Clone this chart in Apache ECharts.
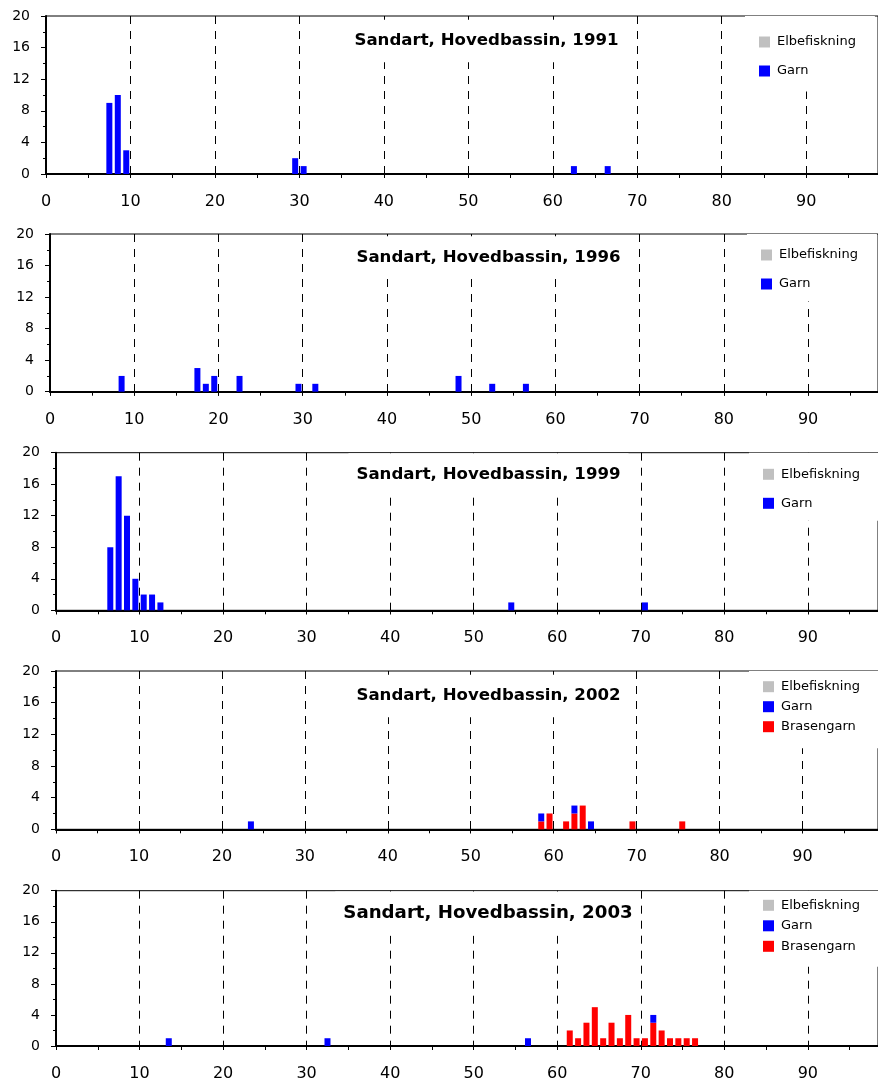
<!DOCTYPE html>
<html>
<head>
<meta charset="utf-8">
<script src="https://cdn.jsdelivr.net/npm/echarts@6/dist/echarts.min.js"></script>
<style>
html,body{margin:0;padding:0;background:#fff;}
#chart{width:878px;height:1082px;}
</style>
</head>
<body>
<div id="chart"></div>
<script>
// ---------- DATA ----------
const seriesNames = ['Elbefiskning', 'Garn', 'Brasengarn'];
const titles = [
  'Sandart, Hovedbassin, 1991',
  'Sandart, Hovedbassin, 1996',
  'Sandart, Hovedbassin, 1999',
  'Sandart, Hovedbassin, 2002',
  'Sandart, Hovedbassin, 2003'
];
const yTickValues = [0, 4, 8, 12, 16, 20];
const xTickValues = [0, 10, 20, 30, 40, 50, 60, 70, 80, 90];

const len1991  = [7.5, 8.5, 9.5, 29.5, 30.5, 62.5, 66.5];
const garn1991 = [9, 10, 3, 2, 1, 1, 1];

const len1996  = [8.5, 17.5, 18.5, 19.5, 22.5, 29.5, 31.5, 48.5, 52.5, 56.5];
const garn1996 = [2, 3, 1, 2, 2, 1, 1, 2, 1, 1];

const len1999  = [6.5, 7.5, 8.5, 9.5, 10.5, 11.5, 12.5, 54.5, 70.5];
const garn1999 = [8, 17, 12, 4, 2, 2, 1, 1, 1];

const len2002    = [23.5, 58.5, 59.5, 61.5, 62.5, 63.5, 64.5, 69.5, 75.5];
const brasen2002 = [0, 1, 2, 1, 2, 3, 0, 1, 1];
const garn2002   = [1, 1, 0, 0, 1, 0, 1, 0, 0];

const len2003    = [13.5, 32.5, 56.5, 61.5, 62.5, 63.5, 64.5, 65.5, 66.5, 67.5, 68.5, 69.5, 70.5, 71.5, 72.5, 73.5, 74.5, 75.5, 76.5];
const brasen2003 = [0, 0, 0, 2, 1, 3, 5, 1, 3, 1, 4, 1, 1, 3, 2, 1, 1, 1, 1];
const garn2003   = [1, 1, 1, 0, 0, 0, 0, 0, 0, 0, 0, 0, 0, 1, 0, 0, 0, 0, 0];

// ---------- LAYOUT ----------
const layouts = [
  {left: 46, top: 16,    height: 158,   xMax: 98.5, tx: 478.5, ty: 41,    ts: 16.6, lx: 759, lpad: [19.5, 19, 14, 14], lgap: 16},
  {left: 50, top: 234,   height: 157.7, xMax: 98.3, tx: 480.5, ty: 257.5, ts: 16.6, lx: 761, lpad: [14.5, 19, 11, 14], lgap: 16},
  {left: 56, top: 452.7, height: 157.6, xMax: 98.4, tx: 480.5, ty: 474.5, ts: 16.6, lx: 763, lpad: [15.1, 19, 11, 14], lgap: 16},
  {left: 56, top: 671,   height: 158.3, xMax: 99.1, tx: 480.5, ty: 696,   ts: 16.6, lx: 763, lpad: [9.2, 19, 15, 14],  lgap: 7},
  {left: 56, top: 890.7, height: 157.6, xMax: 98.4, tx: 480,   ty: 913.5, ts: 18.2, lx: 763, lpad: [8.1, 19, 14, 14],  lgap: 7.5}
];

const panelData = [
  {len: len1991, garn: garn1991, brasen: null},
  {len: len1996, garn: garn1996, brasen: null},
  {len: len1999, garn: garn1999, brasen: null},
  {len: len2002, garn: garn2002, brasen: brasen2002},
  {len: len2003, garn: garn2003, brasen: brasen2003}
];

const colors = {'Elbefiskning': '#C0C0C0', 'Garn': '#0000FF', 'Brasengarn': '#FF0000'};
const FONT = 'DejaVu Sans';

const grid = [], xAxis = [], yAxis = [], series = [], title = [], legend = [];

panelData.forEach((p, k) => {
  const L = layouts[k];
  grid.push({left: L.left, top: L.top, height: L.height, right: 0, show: true,
             borderColor: '#000', borderWidth: 1, backgroundColor: 'transparent'});
  // main x axis
  xAxis.push({
    gridIndex: k, type: 'value', min: 0, max: L.xMax, interval: 10, position: 'bottom',
    axisLine: {show: true, onZero: false, lineStyle: {color: '#000', width: 2}},
    axisTick: {show: true, length: 4, lineStyle: {color: '#000', width: 1}},
    axisLabel: {show: true, showMaxLabel: false, margin: 20, color: '#000', fontFamily: FONT, fontSize: 16,
                formatter: v => xTickValues.indexOf(v) >= 0 ? String(v) : ''},
    splitLine: {show: true, lineStyle: {color: '#000', width: 1, type: [8, 7]}}
  });
  // minor x ticks (every 5)
  xAxis.push({
    gridIndex: k, type: 'value', min: 0, max: L.xMax, interval: 5, position: 'bottom',
    axisLine: {show: false}, axisLabel: {show: false}, splitLine: {show: false},
    axisTick: {show: true, length: 4, lineStyle: {color: '#000', width: 1}}
  });
  yAxis.push({
    gridIndex: k, type: 'value', min: 0, max: 20, interval: 4,
    axisLine: {show: true, lineStyle: {color: '#000', width: 2}},
    axisTick: {show: true, length: 5, lineStyle: {color: '#000', width: 1}},
    minorTick: {show: true, splitNumber: 2, length: 3, lineStyle: {color: '#000', width: 1}},
    axisLabel: {margin: 16, color: '#000', fontFamily: FONT, fontSize: 14,
                formatter: v => yTickValues.indexOf(v) >= 0 ? String(v) : ''},
    splitLine: {show: false}
  });

  const stack = 'p' + k;
  // data stored as [count, length] so the count dimension is the stacked one
  const mk = (name, vals) => ({
    name: name, type: 'bar', xAxisIndex: 2 * k, yAxisIndex: k, stack: stack,
    encode: {x: 1, y: 0},
    barWidth: 6, itemStyle: {color: colors[name]}, silent: true,
    data: vals ? p.len.map((x, i) => [vals[i], x]) : []
  });
  if (p.brasen) series.push(mk('Brasengarn', p.brasen));
  series.push(mk('Garn', p.garn));
  series.push(mk('Elbefiskning', null));

  const lh = L.ts + 2, padV = 12;
  title.push({
    text: titles[k], left: L.tx, top: L.ty - lh / 2 - padV, textAlign: 'center',
    padding: [padV, 8], backgroundColor: '#fff',
    textStyle: {fontFamily: FONT, fontWeight: 'bold', fontSize: L.ts, lineHeight: lh, color: '#000'}
  });

  legend.push({
    data: p.brasen ? seriesNames : seriesNames.slice(0, 2),
    orient: 'vertical', left: L.lx - L.lpad[3], top: L.top,
    padding: L.lpad, itemGap: L.lgap, itemWidth: 11, itemHeight: 11,
    icon: 'rect', backgroundColor: '#fff', selectedMode: false,
    textStyle: {fontFamily: FONT, fontSize: 13, lineHeight: 13, color: '#000', padding: [0, 0, 0, 2]}
  });
});

const chart = echarts.init(document.getElementById('chart'), null, {renderer: 'canvas'});
chart.setOption({
  backgroundColor: '#fff',
  animation: false,
  title: title, legend: legend, grid: grid, xAxis: xAxis, yAxis: yAxis, series: series
});
</script>
</body>
</html>
